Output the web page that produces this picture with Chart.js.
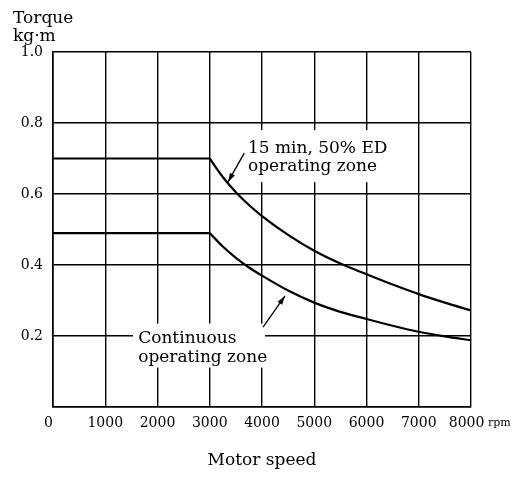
<!DOCTYPE html>
<html>
<head>
<meta charset="utf-8">
<script src="https://cdn.jsdelivr.net/npm/chart.js@4/dist/chart.umd.min.js"></script>
<style>
  html, body { margin: 0; padding: 0; background: #fff; }
  #wrap { width: 521px; height: 477px; }
</style>
</head>
<body>
<div id="wrap"><canvas id="c" width="521" height="477"></canvas></div>
<script>
// Data (motor speed in rpm, torque in kg·m)
const speeds = [0, 3000, 3250, 3500, 3750, 4000, 4500, 5000, 5500, 6000, 6500, 7000, 7500, 8000];
const torque15min = [0.70, 0.70, 0.648, 0.605, 0.569, 0.538, 0.485, 0.440, 0.404, 0.374, 0.345, 0.318, 0.294, 0.272];
const torqueContinuous = [0.49, 0.49, 0.452, 0.420, 0.393, 0.370, 0.328, 0.294, 0.268, 0.248, 0.229, 0.212, 0.199, 0.188];
const xTicks = [0, 1000, 2000, 3000, 4000, 5000, 6000, 7000, 8000];
const yTicks = [0.2, 0.4, 0.6, 0.8, 1.0];
const labels = {
  yTitle: ['Torque', 'kg·m'],
  xTitle: 'Motor speed',
  xUnit: 'rpm',
  zone15: ['15 min, 50% ED', 'operating zone'],
  zoneCont: ['Continuous', 'operating zone']
};

const FONT = '"DejaVu Serif", "Liberation Serif", serif';

function pts(xs, ys) { return xs.map((x, i) => ({ x: x, y: ys[i] })); }
const lineStyle = { borderColor: '#000', borderWidth: 2.2, pointRadius: 0, fill: false };

const datasets = [
  Object.assign({ label: '15 min flat', data: pts(speeds.slice(0, 2), torque15min.slice(0, 2)), tension: 0 }, lineStyle),
  Object.assign({ label: '15 min curve', data: pts(speeds.slice(1), torque15min.slice(1)), cubicInterpolationMode: 'monotone' }, lineStyle),
  Object.assign({ label: 'cont flat', data: pts(speeds.slice(0, 2), torqueContinuous.slice(0, 2)), tension: 0 }, lineStyle),
  Object.assign({ label: 'cont curve', data: pts(speeds.slice(1), torqueContinuous.slice(1)), cubicInterpolationMode: 'monotone' }, lineStyle)
];

const decor = {
  id: 'decor',
  beforeDatasetsDraw(chart) {
    const ctx = chart.ctx, xs = chart.scales.x, ys = chart.scales.y;
    ctx.save();
    ctx.fillStyle = '#fff';
    // white backgrounds behind annotation text (hide grid lines)
    let x0 = xs.getPixelForValue(3730), y0 = ys.getPixelForValue(0.78);
    ctx.fillRect(x0, y0, 145, 52);
    x0 = xs.getPixelForValue(1530); y0 = ys.getPixelForValue(0.235);
    ctx.fillRect(x0, y0, 132, 44);
    ctx.restore();
  },
  afterDatasetsDraw(chart) {
    const ctx = chart.ctx, xs = chart.scales.x, ys = chart.scales.y;
    ctx.save();
    ctx.fillStyle = '#000';
    ctx.font = '17px ' + FONT;
    ctx.textBaseline = 'alphabetic';
    ctx.textAlign = 'left';
    let x = xs.getPixelForValue(3730), y = ys.getPixelForValue(0.715);
    ctx.fillText(labels.zone15[0], x, y);
    ctx.fillText(labels.zone15[1], x, y + 18);
    x = xs.getPixelForValue(1630); y = ys.getPixelForValue(0.18);
    ctx.fillText(labels.zoneCont[0], x, y);
    ctx.fillText(labels.zoneCont[1], x, y + 19);

    function arrow(fx, fy, tx, ty) {
      const ax = xs.getPixelForValue(fx), ay = ys.getPixelForValue(fy);
      const bx = xs.getPixelForValue(tx), by = ys.getPixelForValue(ty);
      ctx.strokeStyle = '#000'; ctx.lineWidth = 1.3;
      ctx.beginPath(); ctx.moveTo(ax, ay); ctx.lineTo(bx, by); ctx.stroke();
      const ang = Math.atan2(by - ay, bx - ax), L = 9, W = 2.8;
      ctx.beginPath();
      ctx.moveTo(bx, by);
      ctx.lineTo(bx - L * Math.cos(ang) + W * Math.sin(ang), by - L * Math.sin(ang) - W * Math.cos(ang));
      ctx.lineTo(bx - L * Math.cos(ang) - W * Math.sin(ang), by - L * Math.sin(ang) + W * Math.cos(ang));
      ctx.closePath(); ctx.fill();
    }
    arrow(3660, 0.715, 3350, 0.634);
    arrow(4020, 0.225, 4440, 0.313);

    // axis titles
    const area = chart.chartArea;
    ctx.font = '17px ' + FONT;
    ctx.textAlign = 'left';
    ctx.fillText(labels.yTitle[0], 13, 23);
    ctx.fillText(labels.yTitle[1], 13, 41);
    ctx.textAlign = 'center';
    ctx.fillText(labels.xTitle, (area.left + area.right) / 2, 465);
    ctx.font = '11px ' + FONT;
    ctx.textAlign = 'left';
    ctx.fillText(labels.xUnit, area.right + 17, 426);
    ctx.restore();
  }
};

new Chart(document.getElementById('c'), {
  type: 'line',
  data: { datasets: datasets },
  options: {
    responsive: false,
    animation: false,
    devicePixelRatio: 1,
    layout: { padding: { top: 52, right: 50, bottom: 0, left: 0 } },
    plugins: { legend: { display: false }, tooltip: { enabled: false } },
    scales: {
      x: {
        type: 'linear', min: 0, max: 8000,
        afterBuildTicks(s) { s.ticks = xTicks.map(v => ({ value: v })); },
        afterFit(s) { s.height = 70; },
        grid: { color: '#000', lineWidth: 1.4, drawTicks: false },
        border: { color: '#000', width: 1.6 },
        ticks: { color: '#000', padding: 8, maxRotation: 0, font: { family: FONT, size: 14 },
          callback: v => v === 0 ? '0\u2007' : (v === 8000 ? '8000\u2007' : String(v)) }
      },
      y: {
        type: 'linear', min: 0, max: 1.0,
        afterBuildTicks(s) { s.ticks = [0].concat(yTicks).map(v => ({ value: v })); },
        afterFit(s) { s.width = 53; },
        grid: { color: '#000', lineWidth: 1.4, drawTicks: false },
        border: { color: '#000', width: 1.6 },
        ticks: { color: '#000', padding: 10, font: { family: FONT, size: 14 },
          callback: v => v === 0 ? '' : v.toFixed(1) }
      }
    }
  },
  plugins: [decor]
});
</script>
</body>
</html>
